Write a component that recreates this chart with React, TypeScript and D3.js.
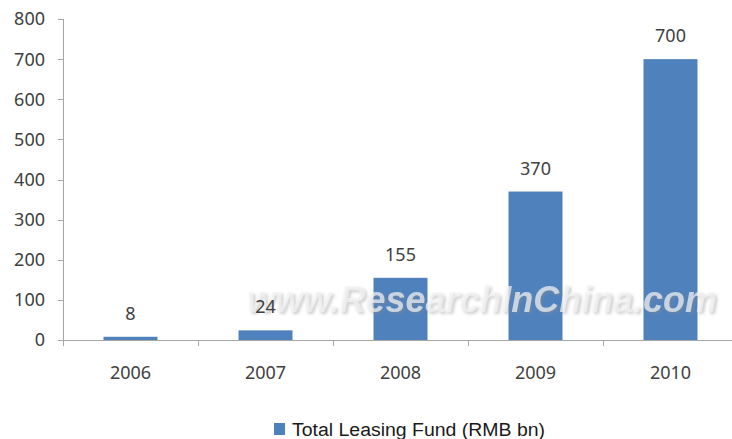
import React from "react";
import * as d3 from "d3";

const years = ["2006", "2007", "2008", "2009", "2010"];
const values = [8, 24, 155, 370, 700];
const yTicks = [0, 100, 200, 300, 400, 500, 600, 700, 800];
const seriesName = "Total Leasing Fund (RMB bn)";
const watermark = "www.ResearchInChina.com";

const W = 732;
const H = 439;
const left = 63;
const right = 738;
const top = 19;
const bottom = 340;
const barColor = "#4F81BD";
const axisColor = "#a6a6a6";
const textColor = "#404040";
const labelFont = "'Noto Sans', 'Open Sans', sans-serif";

export default function App() {
  const x = d3.scaleBand<string>().domain(years).range([left, right]).paddingInner(0.6).paddingOuter(0.3);
  const y = d3.scaleLinear().domain([0, 800]).range([bottom, top]);
  const step = x.step();
  const boundaries = d3.range(years.length + 1).map((i) => left + i * step);

  return (
    <svg width={W} height={H} style={{ position: "absolute", left: 0, top: 0, background: "#fff" }}>
      <defs>
        <filter id="wmblur" x="-5%" y="-30%" width="110%" height="160%">
          <feGaussianBlur stdDeviation="1.6" />
        </filter>
      </defs>
      <rect x={0} y={0} width={W} height={H} fill="#fff" />

      {/* bars */}
      {values.map((v, i) => (
        <rect
          key={years[i]}
          x={x(years[i])!}
          y={y(v)}
          width={x.bandwidth()}
          height={bottom - y(v)}
          fill={barColor}
        />
      ))}

      {/* watermark */}
      <g fontFamily="'Liberation Sans', Arial, sans-serif" fontWeight="bold" fontStyle="italic" fontSize={37}>
        <text x={249} y={314} textLength={470} lengthAdjust="spacingAndGlyphs" fill="#8a8a8a" opacity={0.4} filter="url(#wmblur)">
          {watermark}
        </text>
        <text x={247} y={312} textLength={470} lengthAdjust="spacingAndGlyphs" fill="#f4f4f4" opacity={0.72}>
          {watermark}
        </text>
      </g>

      {/* y axis */}
      <line x1={left + 0.5} x2={left + 0.5} y1={y(800)} y2={bottom + 6} stroke={axisColor} strokeWidth={1} />
      {yTicks.map((t) => (
        <g key={t}>
          <line x1={left - 5} x2={left} y1={Math.round(y(t)) + 0.5} y2={Math.round(y(t)) + 0.5} stroke={axisColor} />
          <text x={45} y={y(t)} dy="0.36em" textAnchor="end" fontFamily={labelFont} fontSize={18} fill={textColor}>
            {t}
          </text>
        </g>
      ))}

      {/* x axis */}
      <line x1={left} x2={W} y1={bottom + 0.5} y2={bottom + 0.5} stroke={axisColor} strokeWidth={1} />
      {boundaries.map((b, i) => (
        <line key={i} x1={Math.round(b) + 0.5} x2={Math.round(b) + 0.5} y1={bottom} y2={bottom + 6} stroke={axisColor} />
      ))}
      {years.map((yr) => (
        <text
          key={yr}
          x={x(yr)! + x.bandwidth() / 2}
          y={373}
          dy="0.36em"
          textAnchor="middle"
          fontFamily={labelFont}
          fontSize={18}
          fill={textColor}
        >
          {yr}
        </text>
      ))}

      {/* data labels */}
      {values.map((v, i) => (
        <text
          key={"l" + years[i]}
          x={x(years[i])! + x.bandwidth() / 2}
          y={y(v) - 17}
          textAnchor="middle"
          fontFamily={labelFont}
          fontSize={18}
          fill={textColor}
        >
          {v}
        </text>
      ))}

      {/* legend */}
      <rect x={274} y={423} width={11} height={12} fill={barColor} />
      <text x={292} y={436} textLength={253} lengthAdjust="spacingAndGlyphs" fontFamily="'Liberation Sans', Arial, sans-serif" fontSize={18} fill="#1a1a1a">
        {seriesName}
      </text>
    </svg>
  );
}
